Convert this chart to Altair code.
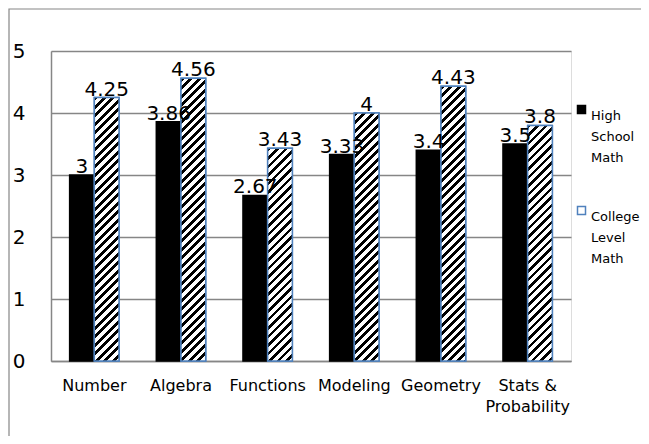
import altair as alt
import pandas as pd

categories = ["Number", "Algebra", "Functions", "Modeling", "Geometry", "Stats & Probability"]
high_school = [3, 3.86, 2.67, 3.33, 3.4, 3.5]
college = [4.25, 4.56, 3.43, 4, 4.43, 3.8]
series_names = ["High School Math", "College Level Math"]
y_ticks = [0, 1, 2, 3, 4, 5]

rows = []
for c, h, k in zip(categories, high_school, college):
    rows.append({"category": c, "series": series_names[0], "value": h, "label": f"{h:g}"})
    rows.append({"category": c, "series": series_names[1], "value": k, "label": f"{k:g}"})
df = pd.DataFrame(rows)

FONT = "DejaVu Sans"
GRAY = "#868686"
BLUE = "#4f81bd"
W, H = 520, 310
Y_MAX = 5
P_INNER = 0.43
bar_w = W / len(categories) * (1 - P_INNER) / 2
px_per_unit = H / Y_MAX


def hatch(value, period=8.5, frac=0.45):
    w = bar_w
    h = value * px_per_unit
    L = w + h
    k = L / (w * w + h * h)
    stops = []
    i = 0
    while i * period < L:
        a = min(i * period / L, 1)
        b = min((i + frac) * period / L, 1)
        stops += [
            alt.GradientStop(color="white", offset=a),
            alt.GradientStop(color="black", offset=a),
            alt.GradientStop(color="black", offset=b),
            alt.GradientStop(color="white", offset=b),
        ]
        i += 1
    return alt.LinearGradient(gradient="linear", stops=stops, x1=0, y1=0, x2=k * w, y2=k * h)


x_enc = alt.X(
    "category:N",
    sort=categories,
    scale=alt.Scale(paddingInner=P_INNER, paddingOuter=P_INNER / 2),
    axis=alt.Axis(
        title=None, labelAngle=0, ticks=False, domainColor=GRAY, domainWidth=1.5,
        labelFont=FONT, labelFontSize=16, labelColor="#000", labelPadding=16,
        labelLineHeight=21, labelBaseline="top",
        labelExpr="datum.label == 'Stats & Probability' ? ['Stats &', 'Probability'] : datum.label",
    ),
)
xo_enc = alt.XOffset("series:N", sort=series_names,
                     scale=alt.Scale(domain=series_names, paddingInner=0, paddingOuter=0))
y_enc = alt.Y(
    "value:Q",
    scale=alt.Scale(domain=[0, Y_MAX], nice=False),
    axis=alt.Axis(
        title=None, values=y_ticks, ticks=False, domainColor=GRAY, domainWidth=1.5,
        gridColor=GRAY, gridWidth=1.5, labelFont=FONT, labelFontSize=20,
        labelColor="#000", labelPadding=26,
    ),
)

legend = alt.Legend(
    title=None, orient="none", legendX=524, legendY=52, symbolType="square",
    symbolSize=64, symbolStrokeWidth=1.5, labelFont=FONT, labelFontSize=13,
    labelColor="#000", labelOffset=3, labelBaseline="top", rowPadding=38,
    labelExpr="split(datum.label, ' ')",
)

base = alt.Chart(df).mark_bar(strokeWidth=1.5).encode(
    x=x_enc, xOffset=xo_enc, y=y_enc,
    fill=alt.Fill("series:N", sort=series_names,
                  scale=alt.Scale(domain=series_names, range=["black", "white"]), legend=legend),
    stroke=alt.Stroke("series:N", sort=series_names,
                      scale=alt.Scale(domain=series_names, range=["black", BLUE]), legend=legend),
)

hatch_layers = []
for c, k in zip(categories, college):
    sub = df[(df["category"] == c) & (df["series"] == series_names[1])]
    hatch_layers.append(
        alt.Chart(sub).mark_bar(fill=hatch(k), stroke=BLUE, strokeWidth=1.5).encode(
            x=x_enc, xOffset=xo_enc, y=y_enc
        )
    )

labels = alt.Chart(df).mark_text(
    font=FONT, fontSize=20, baseline="alphabetic", dy=-2, color="#000"
).encode(x=x_enc, xOffset=xo_enc, y=y_enc, text="label:N")

border = alt.Chart(pd.DataFrame({"a": [0]})).mark_rect(
    fillOpacity=0, stroke=GRAY, strokeWidth=1.2
).encode(x=alt.value(-42), x2=alt.value(800), y=alt.value(-42), y2=alt.value(700))

chart = alt.layer(border, base, *hatch_layers, labels).properties(
    width=W, height=H,
    autosize=alt.AutoSizeParams(type="none"),
    padding={"left": 43, "top": 43, "right": 70, "bottom": 75},
).configure_view(stroke=None).configure(
    style={"guide-label": {"lineHeight": 21}}
)

chart.save("out.html", embed_options={"renderer": "svg", "actions": False})
